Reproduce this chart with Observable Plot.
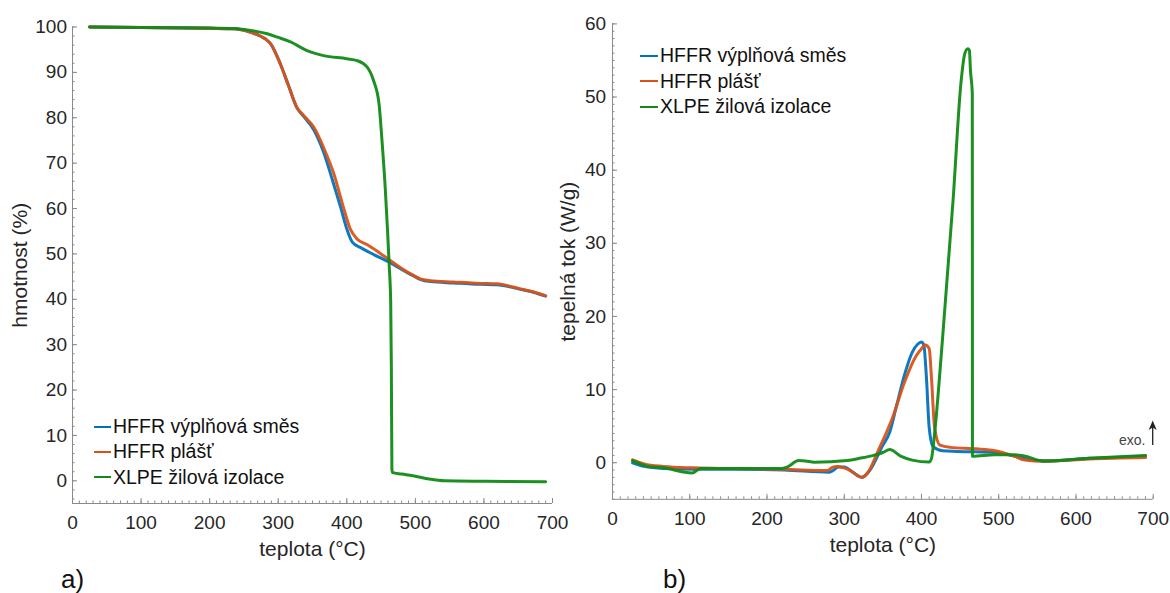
<!DOCTYPE html>
<html><head><meta charset="utf-8">
<script src="https://cdn.jsdelivr.net/npm/d3@7"></script>
<script src="https://cdn.jsdelivr.net/npm/@observablehq/plot@0.6"></script>
<style>
body{margin:0;background:#fff;font-family:"Liberation Sans",Arial,sans-serif;}
#wrap{position:relative;width:1170px;height:593px;overflow:hidden;background:#fff;}
.abs{position:absolute;}
.leg{position:absolute;height:22px;display:flex;align-items:center;font-size:19.5px;color:#111;white-space:nowrap;line-height:1;}
.leg .sw{display:inline-block;height:0;border-top:2.8px solid;margin-right:2px;}
.panel{position:absolute;font-size:26px;color:#111;line-height:1;}
</style></head><body><div id="wrap"></div>
<script>
// ---------- series names & colours ----------
const seriesNames = ["HFFR výplňová směs", "HFFR plášť", "XLPE žilová izolace"];
const seriesColors = ["#0072BD", "#D95319", "#118a18"];

// ---------- a) TGA: mass (%) vs temperature (°C) ----------
const tgaBlueT = [25,100,200,235,260,281,289,303,315,327,337,352,366,380,391,400,408,420,440,464,480,498,507,522,556,595,619,653,673,690];
const tgaBlueW = [100,99.9,99.7,99.6,98.8,97.4,96.3,91.9,87.1,82.3,80.3,77.3,72.5,65.8,60.3,55.5,52.6,51.4,49.8,48.0,46.6,45.1,44.4,43.9,43.6,43.3,43.2,42.2,41.5,40.7];
const tgaOrangeT = [25,100,200,235,260,281,289,303,315,327,337,352,366,381,395,405,415,430,450,464,480,498,507,522,556,595,619,653,673,690];
const tgaOrangeW = [100,99.9,99.7,99.6,98.8,97.4,96.3,91.9,87.1,82.3,80.5,77.9,73.5,67.7,60.3,55.5,53.3,52.0,50.0,48.5,46.8,45.2,44.5,44.1,43.8,43.5,43.4,42.3,41.6,40.8];
const tgaGreenT = [25,100,200,240,262,284,300,318,342,366,400,415,430,439,447,451,456,459.5,462,464,465,465.8,467,480,500,520,543,600,690];
const tgaGreenW = [100,99.9,99.8,99.6,99.2,98.5,97.7,96.7,94.8,93.7,93.0,92.6,91.1,88.2,83.1,75.7,64.7,55.0,47.0,39.7,25.0,2.5,1.8,1.5,1.0,0.4,0.0,-0.1,-0.2];

// ---------- b) DSC: heat flow (W/g) vs temperature (°C) ----------
const dscBlueT = [26,41,66,105,154,222,280,285,292,300,310,323,334,349,359,368,378,388,395,400,403,406.5,410,415,427,446,495,520,544,563,617,690];
const dscBlueV = [0.0,-0.5,-0.8,-0.9,-0.9,-1.0,-1.3,-1.1,-0.6,-0.6,-1.2,-2.0,-0.9,2.2,4.2,7.9,12.0,15.1,16.2,16.5,16.1,11.5,4.8,2.2,1.65,1.55,1.4,0.9,0.36,0.26,0.6,0.9];
const dscOrangeT = [26,41,66,105,154,222,278,285,291,305,323,330,344,363,378,393,400,405,410,413,417,424,437,471,495,520,534,558,617,690];
const dscOrangeV = [0.4,-0.15,-0.5,-0.7,-0.8,-0.9,-1.07,-0.6,-0.5,-0.9,-2.0,-1.45,1.65,6.3,11.0,14.6,15.6,16.1,15.6,11.5,4.8,2.4,2.1,1.9,1.65,0.9,0.36,0.2,0.5,0.7];
const dscGreenT = [26,46,66,103,114,154,218,226,241,250,261,304,320,338,350,359,373,388,410,413,417,427,441,451,456,460,462,463.5,465.8,466,495,520,534,559,617,690];
const dscGreenV = [0.3,-0.5,-0.7,-1.4,-0.8,-0.8,-0.8,-0.6,0.3,0.25,0.07,0.3,0.6,1.0,1.4,1.8,0.9,0.36,0.1,0.6,4.0,16.6,36.0,51.8,55.9,56.6,56.4,53.5,50.5,0.9,1.1,1.1,0.9,0.2,0.6,1.0];

// ---------- axis ticks ----------
const xMajor = d3.range(0, 701, 100);
const xMinor = d3.range(0, 701, 10);
const yMajorA = d3.range(0, 101, 10);
const yMinorA = d3.range(-4, 101, 2);
const yMajorB = d3.range(0, 61, 10);
const yMinorB = d3.range(-5, 61, 1);

function rows(Ts, Vs, name) { return Ts.map((t, i) => ({T: t, v: Vs[i], s: name})); }

const tgaData = [
  ...rows(tgaBlueT, tgaBlueW, seriesNames[0]),
  ...rows(tgaOrangeT, tgaOrangeW, seriesNames[1]),
  ...rows(tgaGreenT, tgaGreenW, seriesNames[2])
];
const dscData = [
  ...rows(dscBlueT, dscBlueV, seriesNames[0]),
  ...rows(dscOrangeT, dscOrangeV, seriesNames[1]),
  ...rows(dscGreenT, dscGreenV, seriesNames[2])
];

const AXC = "#8a8a8a", TXC = "#262626";

function makePlot({data, width, height, mL, mR, mT, mB, yDomain, yMajor, yMinor, yPad, yLabel, yLabelDx, xLabelDy}) {
  return Plot.plot({
    width, height,
    marginLeft: mL, marginRight: mR, marginTop: mT, marginBottom: mB,
    x: {domain: [0, 700]},
    y: {domain: yDomain},
    color: {domain: seriesNames, range: seriesColors},
    style: {fontFamily: "'Liberation Sans', Arial, sans-serif", fontSize: "19px", background: "transparent", color: TXC, overflow: "visible"},
    marks: [
      Plot.ruleX([0], {stroke: AXC, strokeWidth: 1}),
      Plot.ruleY([yDomain[0]], {stroke: AXC, strokeWidth: 1}),
      // inward ticks: draw outward-length ticks, then shift them inside the frame
      Plot.axisX({ticks: xMinor, tickSize: 2.5, dy: -2.5, fill: "none", stroke: AXC, label: null}),
      Plot.axisX({ticks: xMajor, tickSize: 5, dy: -5, fill: "none", stroke: AXC, label: null}),
      Plot.axisY({ticks: yMinor, tickSize: 2.5, dx: 2.5, fill: "none", stroke: AXC, label: null}),
      Plot.axisY({ticks: yMajor, tickSize: 5, dx: 5, fill: "none", stroke: AXC, label: null}),
      Plot.axisX({ticks: xMajor, tickSize: 0, tickPadding: 12, fill: TXC, fontSize: 19, label: null}),
      Plot.axisY({ticks: yMajor, tickSize: 0, tickPadding: yPad, fill: TXC, fontSize: 19, label: null}),
      Plot.line(data, {x: "T", y: "v", z: "s", stroke: "s", strokeWidth: 3, curve: "monotone-x", strokeLinejoin: "round", strokeOpacity: 0.95}),
      Plot.text(["teplota (°C)"], {text: d => d, frameAnchor: "bottom", dy: xLabelDy, lineAnchor: "middle", textAnchor: "middle", fontSize: 21, fill: TXC}),
      Plot.text([yLabel], {text: d => d, frameAnchor: "left", dx: yLabelDx, rotate: -90, lineAnchor: "middle", textAnchor: "middle", fontSize: 21, fill: TXC})
    ]
  });
}

const wrap = document.getElementById("wrap");

const pA = makePlot({data: tgaData, width: 585, height: 593, mL: 72, mR: 33, mT: 26.5, mB: 90,
  yDomain: [-5, 100], yMajor: yMajorA, yMinor: yMinorA, yPad: 5.5, yLabel: "hmotnost (%)", yLabelDx: -52, xLabelDy: 45.6});
pA.classList.add("abs"); pA.style.left = "0px"; pA.style.top = "0px";
wrap.appendChild(pA);

const pB = makePlot({data: dscData, width: 640, height: 593, mL: 82, mR: 17.3, mT: 23.4, mB: 94.2,
  yDomain: [-5, 60], yMajor: yMajorB, yMinor: yMinorB, yPad: 6.4, yLabel: "tepelná tok (W/g)", yLabelDx: -44, xLabelDy: 45.8});
pB.classList.add("abs"); pB.style.left = "530px"; pB.style.top = "0px";
wrap.appendChild(pB);

// ---------- legends ----------
function legend(left, swW, centers) {
  seriesNames.forEach((n, i) => {
    const d = document.createElement("div");
    d.className = "leg";
    d.style.left = left + "px";
    d.style.top = (centers[i] - 11) + "px";
    const sw = document.createElement("span");
    sw.className = "sw";
    sw.style.width = swW + "px";
    sw.style.borderTopColor = seriesColors[i];
    d.appendChild(sw);
    d.appendChild(document.createTextNode(n));
    wrap.appendChild(d);
  });
}
legend(94, 17, [426.6, 452, 477.3]);
legend(640, 18, [56, 81.3, 107]);

// ---------- panel letters ----------
function panel(txt, left, cy) {
  const d = document.createElement("div");
  d.className = "panel"; d.textContent = txt;
  d.style.left = left + "px"; d.style.top = (cy - 13) + "px";
  wrap.appendChild(d);
}
panel("a)", 61, 578.7);
panel("b)", 663, 578.7);

// ---------- exo. annotation ----------
const exo = document.createElement("div");
exo.className = "abs";
exo.style.cssText = "position:absolute;left:1100px;top:416px;width:70px;height:34px;";
exo.innerHTML = '<svg width="70" height="34" style="overflow:visible">' +
  '<text x="45.5" y="29" text-anchor="end" font-size="14" fill="#444" font-family="Liberation Sans, Arial, sans-serif">exo.</text>' +
  '<line x1="52.7" y1="29" x2="52.7" y2="8" stroke="#222" stroke-width="1.3"/>' +
  '<path d="M48.7,14 L52.7,4.5 L56.7,14 L52.7,11.5 Z" fill="#222"/></svg>';
wrap.appendChild(exo);
</script>
</body></html>
